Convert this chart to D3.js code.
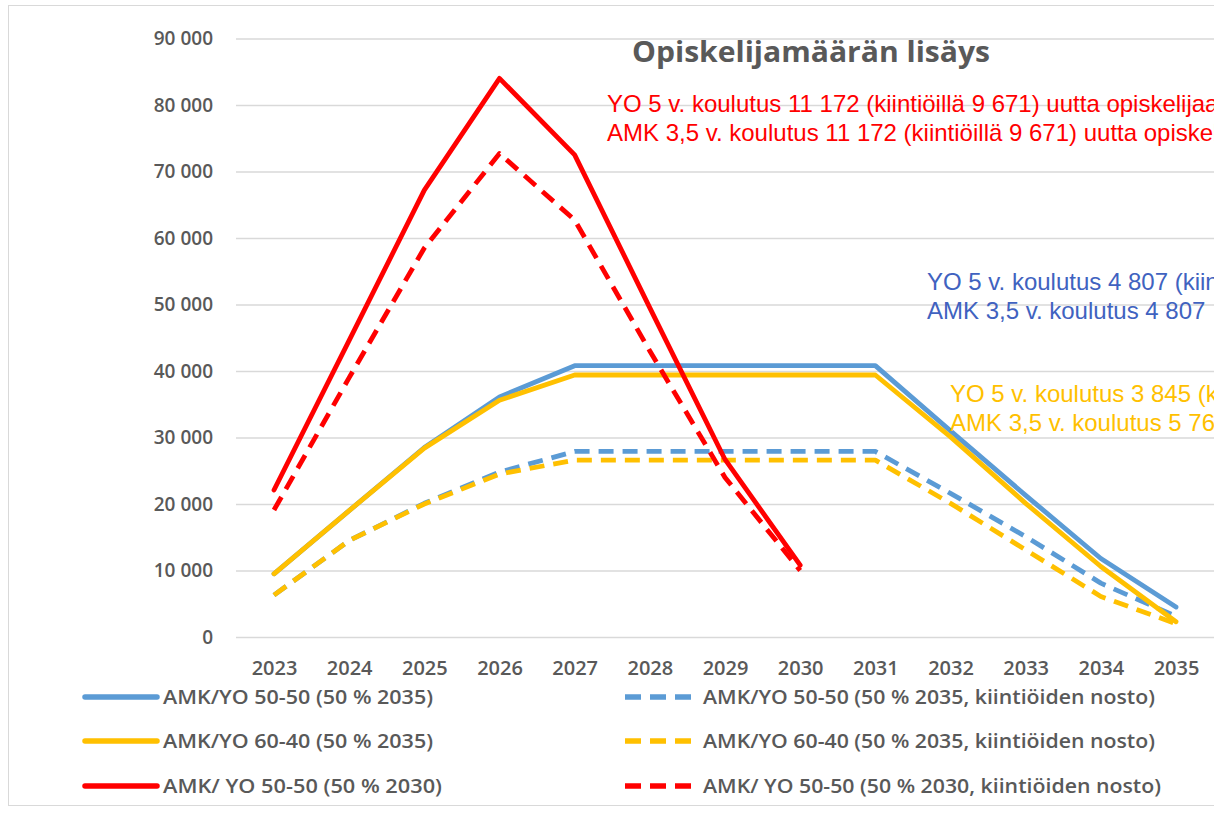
<!DOCTYPE html>
<html>
<head>
<meta charset="utf-8">
<script src="https://cdn.jsdelivr.net/npm/d3@7"></script>
<style>
  body { margin: 0; background: #fff; }
  svg { display: block; }
</style>
</head>
<body>
<div id="chart"></div>
<script>
// values
const years = [2023, 2024, 2025, 2026, 2027, 2028, 2029, 2030, 2031, 2032, 2033, 2034, 2035];
const yTicks = [0, 10000, 20000, 30000, 40000, 50000, 60000, 70000, 80000, 90000];

const amkYo5050_2035 = [9500, 19000, 28500, 36100, 40800, 40800, 40800, 40800, 40800, 31000, 21300, 11800, 4500];
const amkYo6040_2035 = [9500, 19000, 28400, 35600, 39400, 39400, 39400, 39400, 39400, 30100, 20100, 10600, 2300];
const amkYo5050_2030 = [22100, 44600, 67200, 84000, 72500, 49500, 26700, 10800];
const amkYo5050_2035q = [6300, 14500, 20100, 24800, 27900, 27900, 27900, 27900, 27900, 21600, 15100, 8100, 3100];
const amkYo6040_2035q = [6300, 14500, 20000, 24500, 26600, 26600, 26600, 26600, 26600, 20100, 13100, 6100, 2000];
const amkYo5050_2030q = [19100, 39000, 58500, 72700, 62700, 43000, 24000, 10000];

const seriesNames = [
  "AMK/YO 50-50 (50 % 2035)",
  "AMK/YO 50-50 (50 % 2035, kiintiöiden nosto)",
  "AMK/YO 60-40 (50 % 2035)",
  "AMK/YO 60-40 (50 % 2035, kiintiöiden nosto)",
  "AMK/ YO 50-50 (50 % 2030)",
  "AMK/ YO 50-50 (50 % 2030, kiintiöiden nosto)"
];
const seriesValues = [amkYo5050_2035, amkYo5050_2035q, amkYo6040_2035, amkYo6040_2035q, amkYo5050_2030, amkYo5050_2030q];

const title = "Opiskelijamäärän lisäys";
const notesRed = [
  "YO 5 v. koulutus 11 172 (kiintiöillä 9 671) uutta opiskelijaa",
  "AMK 3,5 v. koulutus 11 172 (kiintiöillä 9 671) uutta opiskelijaa"
];
const notesBlue = ["YO 5 v. koulutus 4 807 (kiintiöillä", "AMK 3,5 v. koulutus 4 807"];
const notesYellow = ["YO 5 v. koulutus 3 845 (k", "AMK 3,5 v. koulutus 5 76"];

// styles
const colors = ["#5b9bd5", "#5b9bd5", "#ffc000", "#ffc000", "#ff0000", "#ff0000"];
const dashed = [false, true, false, true, false, true];

const W = 1214, H = 816;
const plotLeft = 236, plotRight = 1214;

const svg = d3.select("#chart").append("svg")
    .attr("width", W)
    .attr("height", H);

// outer frame of the chart picture
svg.append("rect")
    .attr("x", 8.5).attr("y", 5.5)
    .attr("width", 1300).attr("height", 800)
    .attr("fill", "#fff")
    .attr("stroke", "#d9d9d9");

const x = d3.scalePoint()
    .domain(years)
    .range([274, 1176]);

const y = d3.scaleLinear()
    .domain([0, 90000])
    .range([637, 38.5]);

const fmt = d3.formatLocale({decimal: ",", thousands: " ", grouping: [3], currency: ["", ""]}).format(",d");

// gridlines
svg.append("g")
    .attr("transform", "translate(" + plotLeft + ",0)")
    .call(d3.axisLeft(y).tickValues(yTicks).tickSize(-(plotRight - plotLeft)).tickFormat(""))
    .call(g => g.select(".domain").remove())
    .call(g => g.selectAll("line").attr("stroke", "#d9d9d9").attr("stroke-width", 1.3));

// y labels
svg.append("g")
    .attr("transform", "translate(" + plotLeft + ",0)")
    .call(d3.axisLeft(y).tickValues(yTicks).tickSize(0).tickPadding(23).tickFormat(fmt))
    .call(g => g.select(".domain").remove())
    .call(g => g.selectAll("text")
        .attr("fill", "#595959")
        .style("font-family", "'Open Sans', sans-serif")
        .style("font-weight", 600)
        .style("font-size", "19px"));

// x labels
svg.append("g")
    .attr("transform", "translate(0,637)")
    .call(d3.axisBottom(x).tickSize(0).tickPadding(24))
    .call(g => g.select(".domain").remove())
    .call(g => g.selectAll("text")
        .attr("fill", "#595959")
        .style("font-family", "'Open Sans', sans-serif")
        .style("font-weight", 600)
        .style("font-size", "20px"));

// title
svg.append("text")
    .attr("x", 632).attr("y", 62)
    .attr("textLength", 358)
    .attr("lengthAdjust", "spacingAndGlyphs")
    .attr("fill", "#595959")
    .style("font-family", "'Open Sans', sans-serif")
    .style("font-weight", 700)
    .style("font-size", "28px")
    .text(title);

// lines
const line = d3.line()
    .x((d, i) => x(years[i]))
    .y(d => y(d));

seriesValues.forEach((vals, i) => {
  svg.append("path")
      .datum(vals)
      .attr("d", line)
      .attr("fill", "none")
      .attr("stroke", colors[i])
      .attr("stroke-width", 4.8)
      .attr("stroke-linejoin", "round")
      .attr("stroke-linecap", dashed[i] ? "butt" : "round")
      .attr("stroke-dasharray", dashed[i] ? "15,9" : null);
});

// annotations (cut at the right edge as in the picture)
function notes(lines, x0, y0, color) {
  lines.forEach((t, i) => {
    svg.append("text")
        .attr("x", x0).attr("y", y0 + i * 29)
        .attr("fill", color)
        .style("font-family", "'Liberation Sans', Arial, sans-serif")
        .style("font-size", "24px")
        .text(t);
  });
}
notes(notesRed, 607, 112, "#ff0000");
notes(notesBlue, 927, 290, "#4062c0");
notes(notesYellow, 950, 402, "#ffc000");

// legend, two columns, row order like Excel
const legendRows = [697, 741, 786];
const legendCols = [{x1: 85, x2: 157, tx: 163}, {x1: 625, x2: 697, tx: 703}];
const legendWidths = [270, 452, 270, 452, 279, 458];

seriesNames.forEach((name, i) => {
  const col = legendCols[i % 2], ry = legendRows[Math.floor(i / 2)];
  const g = svg.append("g");
  g.append("line")
      .attr("x1", col.x1).attr("x2", col.x2)
      .attr("y1", ry).attr("y2", ry)
      .attr("stroke", colors[i])
      .attr("stroke-width", 5.5)
      .attr("stroke-linecap", dashed[i] ? "butt" : "round")
      .attr("stroke-dasharray", dashed[i] ? "16,9" : null);
  g.append("text")
      .attr("x", col.tx).attr("y", ry)
      .attr("dy", "0.35em")
      .attr("textLength", legendWidths[i])
      .attr("lengthAdjust", "spacingAndGlyphs")
      .attr("fill", "#595959")
      .style("font-family", "'Open Sans', sans-serif")
      .style("font-weight", 600)
      .style("font-size", "19px")
      .text(name);
});
</script>
</body>
</html>
